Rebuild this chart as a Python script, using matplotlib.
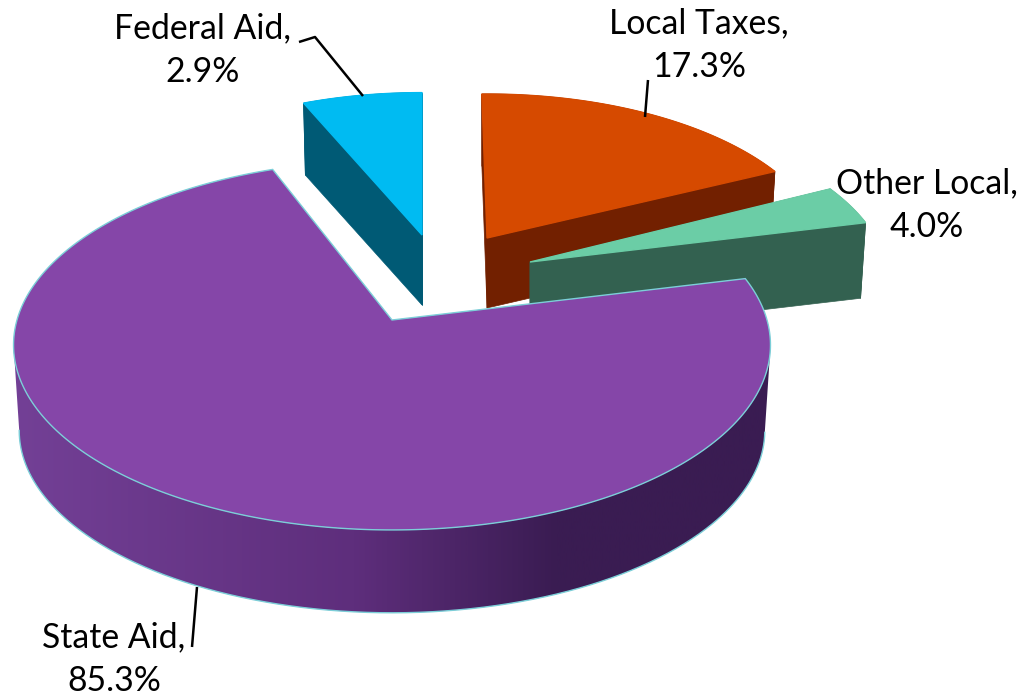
import numpy as np
import matplotlib
matplotlib.use('Agg')
import matplotlib.pyplot as plt
from matplotlib.colors import LinearSegmentedColormap
from matplotlib.patches import Polygon

# label values and the slices as they are drawn in the picture (degrees)
categories = ['Local Taxes', 'Federal Aid', 'State Aid', 'Other Local']
shares = [17.3, 2.9, 85.3, 4.0]
start_angles = [25.5, 90.0, 111.0, 13.6]
sweeps = [65.5, 23.5, 262.6, 13.1]

plt.rcParams['font.family'] = ['Lato', 'DejaVu Sans']

top_colors = ['#D64A00', '#00BBF2', '#8546A8', '#6BCDA6']
wall_colors = ['#722000', '#005A75', '#8546A8', '#336150']
# apex x, apex y, size, wall depth for each slice
apex = [(487, 238), (422, 235), (392, 320), (530, 262)]
size = [0.90, 0.89, 1.0, 0.95]
depth = [70, 70, 86, 75]
RX, RY, K = 375.0, 181.6, 0.135
rim = '#7CCFD8'
wall_cmap = LinearSegmentedColormap.from_list('wall', [(0, '#734096'), (0.45, '#5E2E7C'), (0.72, '#3A1C52'), (1, '#3A1C52')])


def project(cx, cy, s, angle):
    # circle seen in perspective, the far side comes out smaller
    t = np.radians(angle)
    w = 1 + K * np.sin(t)
    return cx + RX * s * np.cos(t) / w, cy - RY * s * np.sin(t) / w


def draw_slice(i, z):
    cx, cy = apex[i]
    s, d = size[i], depth[i]
    ang = np.linspace(start_angles[i], start_angles[i] + sweeps[i], 600)
    x, y = project(cx, cy, s, ang)
    xb, yb = project(cx, cy + d, s * 0.985, ang)

    if categories[i] == 'State Aid':
        # shaded wall along the front of the pie, from the left extreme to the right one
        a, b = np.argmin(x), np.argmax(x)
        outline = np.r_[np.c_[x[a:b], y[a:b]], np.c_[xb[a:b], yb[a:b]][::-1]]
        shape = Polygon(outline, facecolor='none', edgecolor='none', zorder=z)
        ax.add_patch(shape)
        grad = np.linspace(0, 1, 400).reshape(1, -1)
        im = ax.imshow(grad, cmap=wall_cmap, extent=(13, 770, 696, 0), aspect='auto', zorder=z)
        im.set_clip_path(shape)
        ax.plot(xb[a:b], yb[a:b], color=rim, lw=1.0, zorder=z)
    else:
        wall = wall_colors[i]
        # outer wall and both cut faces
        outline = np.r_[np.c_[x, y], np.c_[xb, yb][::-1]]
        ax.add_patch(Polygon(outline, facecolor=wall, edgecolor=wall, lw=0.5, zorder=z))
        for k in (0, -1):
            ax.add_patch(Polygon([(cx, cy), (x[k], y[k]), (xb[k], yb[k]), (cx, cy + d)],
                                 facecolor=wall, edgecolor=wall, lw=0.5, zorder=z))

    face = np.r_[[(cx, cy)], np.c_[x, y]]
    edge = rim if categories[i] == 'State Aid' else top_colors[i]
    ax.add_patch(Polygon(face, facecolor=top_colors[i], edgecolor=edge, lw=1.0, zorder=z))


fig = plt.figure(figsize=(10.23, 6.96), dpi=100)
ax = fig.add_axes([0, 0, 1, 1])

for z, i in enumerate([1, 0, 3, 2]):
    draw_slice(i, z + 1)

ax.set_xlim(0, 1023)
ax.set_ylim(696, 0)
ax.axis('off')

# labels and their leader lines
text_pos = [(699, 45), (203, 50), (114, 659), (927, 205)]
leaders = [
    [(648, 80), (645, 117)],
    [(299, 42), (315, 37), (363, 96)],
    [(197, 587), (192, 647)],
    [],
]
for i, name in enumerate(categories):
    ax.text(text_pos[i][0], text_pos[i][1], f'{name},\n{shares[i]:.1f}%', ha='center', va='center',
            fontsize=24.3, color='black', linespacing=1.45, zorder=10)
    if leaders[i]:
        lx, ly = zip(*leaders[i])
        ax.plot(lx, ly, color='black', lw=1.8, zorder=10, solid_capstyle='butt')

fig.savefig('out.png', dpi=100)
